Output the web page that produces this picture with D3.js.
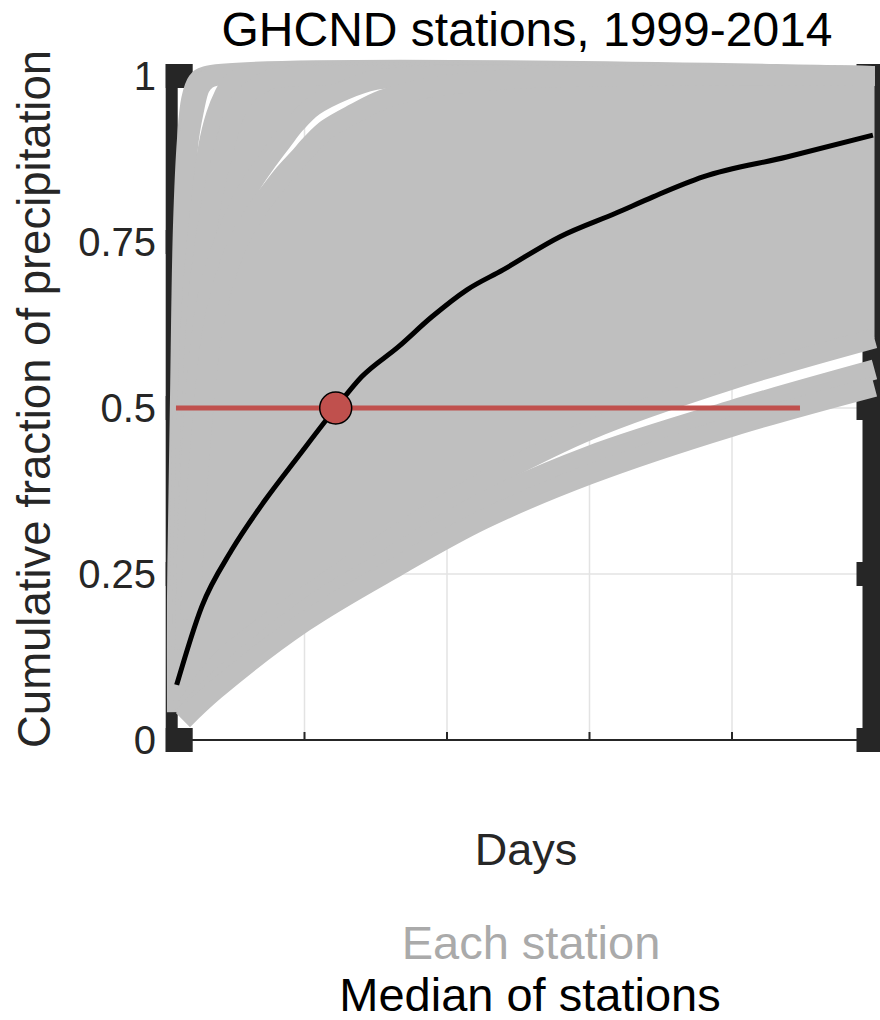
<!DOCTYPE html>
<meta charset="utf-8">
<style>
	body { margin: 0; background: #fff; }
	text { font-family: "Liberation Sans", Arial, sans-serif; }
</style>
<svg id="chart" width="880" height="1020"></svg>
<script src="https://cdn.jsdelivr.net/npm/d3@7/dist/d3.min.js"></script>
<script>
	// station curves, [day, cumulative fraction]
	var stationA = [[0.105,0.042],[0.105,0.211],[0.112,0.321],[0.126,0.512],[0.147,0.773],[0.175,0.904],[0.204,0.964],[0.246,0.991],[0.309,1],[5,1]];
	var stationB = [[0.119,0.060],[0.133,0.361],[0.154,0.663],[0.182,0.892],[0.225,0.949],[0.267,0.983],[0.316,0.995],[0.379,1],[5,1]];
	var stationC = [[0.140,0.136],[0.168,0.437],[0.211,0.663],[0.260,0.783],[0.323,0.892],[0.379,0.941],[0.435,0.971],[0.484,0.988],[0.547,0.997],[0.632,1],[5,1]];
	var stationD = [[0.161,0.136],[0.196,0.437],[0.253,0.663],[0.351,0.813],[0.442,0.896],[0.505,0.941],[0.575,0.968],[0.660,0.983],[0.744,0.994],[0.855,0.998],[0.990,1],[5,1]];
	var stationE = [[0.168,0.211],[0.232,0.512],[0.337,0.685],[0.491,0.780],[0.618,0.834],[0.737,0.872],[0.842,0.902],[0.940,0.929],[1.067,0.955],[1.284,0.979],[1.495,0.994],[1.670,0.998],[1.881,1],[5,1]];
	var stationF = [[0.196,0.181],[0.267,0.437],[0.365,0.630],[0.526,0.745],[0.674,0.801],[0.758,0.825],[0.856,0.852],[0.954,0.875],[1.053,0.899],[1.158,0.920],[1.354,0.944],[1.544,0.964],[1.811,0.980],[2.232,0.992],[2.723,0.998],[3.214,1],[5,1]];
	var stationG = [[0.150,0.040],[0.300,0.090],[0.500,0.135],[1.000,0.215],[1.500,0.288],[2.000,0.357],[2.250,0.388],[3.000,0.467],[4.000,0.543],[5.000,0.605]];
	var stationH = [[0.150,0.035],[0.370,0.085],[1.000,0.195],[1.500,0.262],[2.250,0.358],[3.000,0.428],[4.000,0.497],[5.000,0.558]];
	var stationI = [[0.147,0.030],[0.372,0.075],[1.000,0.178],[1.656,0.262],[2.253,0.332],[3.000,0.400],[4.000,0.472],[5.000,0.532]];

	// dense clusters of stations, filled between two bounding stations
	var stationLines = [stationA, stationB, stationC, stationD, stationE, stationF, stationG, stationH, stationI];
	var stationBands = [[stationD, stationE], [stationF, stationG]];

	// median of stations
	var medianDays = [0.103,0.279,0.489,0.723,0.956,1.219,1.401,1.658,1.892,2.140,2.393,2.793,3.191,3.446,3.796,4.384,4.989];
	var medianFrac = [0.083,0.201,0.286,0.361,0.427,0.500,0.547,0.592,0.637,0.678,0.708,0.758,0.794,0.818,0.848,0.878,0.911];

	// half of precipitation reached
	var halfLevel = 0.5;
	var halfLineDays = [0.098, 4.477];
	var halfDay = 1.219;

	var xTicks = [1, 2, 3, 4];
	var yTicks = [0, 0.25, 0.5, 0.75, 1];
	var yTickLabels = ["0", "0.25", "0.5", "0.75", "1"];

	var svg = d3.select("#chart");
	var x = d3.scaleLinear().domain([0.04, 5]).range([167.7, 874.5]);
	var y = d3.scaleLinear().domain([0, 1]).range([740, 76]);
	var dark = "#262626", gray = "#bfbfbf";

	var line = d3.line()
		.x(function(d) { return x(d[0]); })
		.y(function(d) { return y(d[1]); })
		.curve(d3.curveCatmullRom.alpha(0.5));

	function bandPath(upper, lower) {
		return line(upper) + line(lower.slice().reverse()).replace(/^M/, "L") + "Z";
	}

	// grid
	var grid = svg.append("g");
	grid.selectAll(".gx").data(xTicks).enter().append("line")
		.attr("x1", function(d) { return x(d); }).attr("x2", function(d) { return x(d); })
		.attr("y1", y(1)).attr("y2", y(0))
		.attr("stroke", "#e3e3e3").attr("stroke-width", 1.5);
	grid.selectAll(".gy").data(yTicks.slice(1, 4)).enter().append("line")
		.attr("x1", x(0.04)).attr("x2", x(5))
		.attr("y1", function(d) { return y(d); }).attr("y2", function(d) { return y(d); })
		.attr("stroke", "#e3e3e3").attr("stroke-width", 1.5);

	// axes (heavy y axis lines, thin x axis)
	var x0 = x.range()[0], x1 = x.range()[1];
	var ax = svg.append("g").attr("fill", dark);
	ax.append("rect").attr("x", x0 - 2).attr("y", y(1) - 12).attr("width", 12).attr("height", y(0) - y(1) + 24);
	ax.append("rect").attr("x", x1 - 12).attr("y", y(1) - 12).attr("width", 18).attr("height", y(0) - y(1) + 24);
	ax.selectAll(".tl").data(yTicks).enter().append("rect")
		.attr("x", x0 - 2).attr("width", 27)
		.attr("y", function(d) { return y(d) - 12; }).attr("height", 24);
	ax.selectAll(".tr").data(yTicks).enter().append("rect")
		.attr("x", x1 - 18).attr("width", 24)
		.attr("y", function(d) { return y(d) - 12; }).attr("height", 24);
	svg.append("line").attr("x1", x0).attr("x2", x1).attr("y1", y(0)).attr("y2", y(0))
		.attr("stroke", dark).attr("stroke-width", 2);
	svg.selectAll(".xt").data(xTicks).enter().append("line")
		.attr("x1", function(d) { return x(d); }).attr("x2", function(d) { return x(d); })
		.attr("y1", y(0)).attr("y2", y(0) - 8)
		.attr("stroke", dark).attr("stroke-width", 2);

	// each station
	svg.append("g").selectAll("path").data(stationBands).enter().append("path")
		.attr("d", function(d) { return bandPath(d[0], d[1]); })
		.attr("fill", gray);
	svg.append("g").selectAll("path").data(stationLines).enter().append("path")
		.attr("d", line)
		.attr("fill", "none").attr("stroke", gray).attr("stroke-width", 20)
		.attr("stroke-linejoin", "round");

	// median
	var medianData = medianDays.map(function(d, i) { return [d, medianFrac[i]]; });
	svg.append("path").datum(medianData)
		.attr("d", d3.line().x(function(d) { return x(d[0]); }).y(function(d) { return y(d[1]); }).curve(d3.curveMonotoneX))
		.attr("fill", "none").attr("stroke", "#000").attr("stroke-width", 5);

	svg.append("line")
		.attr("x1", x(halfLineDays[0])).attr("x2", x(halfLineDays[1]))
		.attr("y1", y(halfLevel)).attr("y2", y(halfLevel))
		.attr("stroke", "#c0504d").attr("stroke-width", 5);
	svg.append("circle")
		.attr("cx", x(halfDay)).attr("cy", y(halfLevel)).attr("r", 16)
		.attr("fill", "#c0504d").attr("stroke", "#000").attr("stroke-width", 1.5);

	// texts
	svg.selectAll(".yl").data(yTicks).enter().append("text")
		.attr("x", 156).attr("y", function(d) { return y(d); })
		.attr("dy", "0.36em").attr("text-anchor", "end")
		.attr("font-size", 40).attr("fill", dark)
		.text(function(d, i) { return yTickLabels[i]; });

	svg.append("text").attr("x", 527).attr("y", 46).attr("text-anchor", "middle")
		.attr("font-size", 48).attr("fill", "#000").text("GHCND stations, 1999-2014");
	svg.append("text").attr("x", 526).attr("y", 865).attr("text-anchor", "middle")
		.attr("font-size", 45).attr("fill", dark).text("Days");
	svg.append("text").attr("transform", "translate(50,399) rotate(-90)").attr("text-anchor", "middle")
		.attr("font-size", 45.5).attr("fill", dark).text("Cumulative fraction of precipitation");

	svg.append("text").attr("x", 531).attr("y", 959).attr("text-anchor", "middle")
		.attr("font-size", 47).attr("fill", "#aaaaaa").text("Each station");
	svg.append("text").attr("x", 530).attr("y", 1011).attr("text-anchor", "middle")
		.attr("font-size", 47).attr("fill", "#000").text("Median of stations");
</script>
